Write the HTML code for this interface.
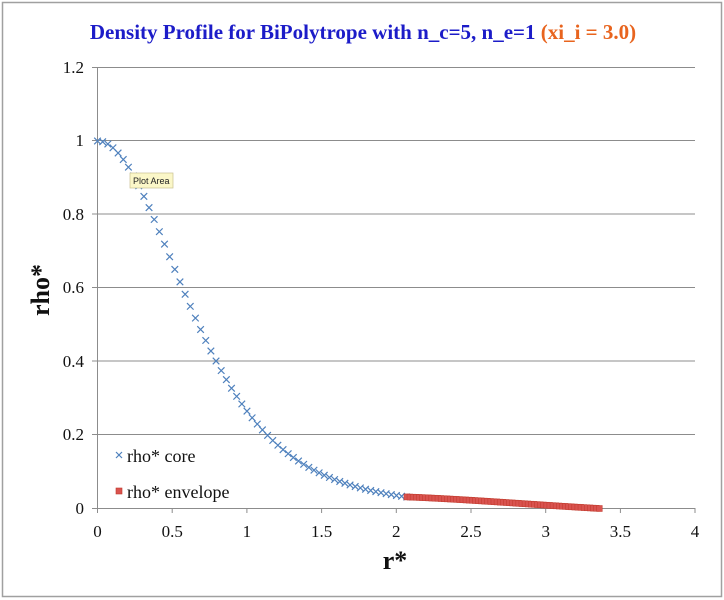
<!DOCTYPE html>
<html><head><meta charset="utf-8"><style>
html,body{margin:0;padding:0;background:#fff;}
svg{display:block;}
text{font-family:"Liberation Serif",serif;}
</style></head><body>
<svg id="s" width="724" height="600" xmlns="http://www.w3.org/2000/svg">
<rect x="2.5" y="2.5" width="719" height="594" fill="#fff" stroke="#a0a0a0" stroke-width="1.5"/>
<text x="363" y="39" text-anchor="middle" font-size="21" font-weight="bold" fill="#1c1cc8">Density Profile for BiPolytrope with n_c=5, n_e=1 <tspan fill="#e8641e">(xi_i = 3.0)</tspan></text>
<g stroke="#8c8c8c" stroke-width="1">
<line x1="97.5" y1="67.5" x2="695" y2="67.5"/>
<line x1="97.5" y1="140.5" x2="695" y2="140.5"/>
<line x1="97.5" y1="214" x2="695" y2="214"/>
<line x1="97.5" y1="287.5" x2="695" y2="287.5"/>
<line x1="97.5" y1="361" x2="695" y2="361"/>
<line x1="97.5" y1="434.5" x2="695" y2="434.5"/>
<line x1="97.5" y1="508.5" x2="695" y2="508.5"/>
<line x1="97.5" y1="67" x2="97.5" y2="509"/>
<line x1="92" y1="67.5" x2="97.5" y2="67.5"/><line x1="92" y1="140.5" x2="97.5" y2="140.5"/><line x1="92" y1="214" x2="97.5" y2="214"/><line x1="92" y1="287.5" x2="97.5" y2="287.5"/><line x1="92" y1="361" x2="97.5" y2="361"/><line x1="92" y1="434.5" x2="97.5" y2="434.5"/><line x1="92" y1="508.5" x2="97.5" y2="508.5"/>
<line x1="97.5" y1="508" x2="97.5" y2="513"/><line x1="172.2" y1="508" x2="172.2" y2="513"/><line x1="246.9" y1="508" x2="246.9" y2="513"/><line x1="321.6" y1="508" x2="321.6" y2="513"/><line x1="396.3" y1="508" x2="396.3" y2="513"/><line x1="471" y1="508" x2="471" y2="513"/><line x1="545.7" y1="508" x2="545.7" y2="513"/><line x1="620.4" y1="508" x2="620.4" y2="513"/><line x1="695" y1="508" x2="695" y2="513"/>
</g>
<g font-size="17" fill="#111" text-anchor="end">
<text x="84" y="73">1.2</text><text x="84" y="146">1</text><text x="84" y="220">0.8</text><text x="84" y="293">0.6</text><text x="84" y="367">0.4</text><text x="84" y="440">0.2</text><text x="84" y="514">0</text>
</g>
<g font-size="17" fill="#111" text-anchor="middle">
<text x="97.5" y="537">0</text><text x="172.2" y="537">0.5</text><text x="246.9" y="537">1</text><text x="321.6" y="537">1.5</text><text x="396.3" y="537">2</text><text x="471" y="537">2.5</text><text x="545.7" y="537">3</text><text x="620.4" y="537">3.5</text><text x="695" y="537">4</text>
</g>
<text x="395" y="569" text-anchor="middle" font-size="26" font-weight="bold" fill="#111">r*</text>
<text transform="translate(49,290) rotate(-90)" text-anchor="middle" font-size="26" font-weight="bold" fill="#111">rho*</text>
<g id="pts"></g>
<rect x="130" y="173" width="43" height="15" fill="#fbf7c8" stroke="#c8c090" stroke-width="0.7"/>
<text x="133" y="184" font-size="9" fill="#222" style="font-family:'Liberation Sans',sans-serif">Plot Area</text>
<g stroke="#4f81bd" stroke-width="1.2"><line x1="116" y1="452" x2="122" y2="458"/><line x1="116" y1="458" x2="122" y2="452"/></g>
<text x="127" y="462" font-size="18" fill="#111">rho* core</text>
<rect x="116" y="488" width="6" height="6" fill="#d9534f" stroke="#c0392b" stroke-width="0.6"/>
<text x="127" y="498" font-size="18" fill="#111">rho* envelope</text>
</svg>
<script>
var g=document.getElementById('pts'),h='';
function X(r){return 97.5+r*149.4;}function Y(v){return 508.5-v*367.5;}
var s=2.07/3;
for(var i=0;i<=60;i++){var xi=i*0.05,r=xi*s,v=Math.pow(1+xi*xi/3,-2.5),x=X(r),y=Y(v);
h+='<path d="M'+(x-3.3)+' '+(y-3.3)+'L'+(x+3.3)+' '+(y+3.3)+'M'+(x-3.3)+' '+(y+3.3)+'L'+(x+3.3)+' '+(y-3.3)+'" stroke="#4f81bd" stroke-width="1.2" fill="none"/>';}
var r0=2.07,R=3.36,k=1.2;
for(var i=0;i<=62;i++){var r=r0+(R-r0)*i/62;var v=0.0315*(r0/r)*Math.sin(k*(R-r))/Math.sin(k*(R-r0));
h+='<rect x="'+(X(r)-2.8)+'" y="'+(Y(v)-3)+'" width="5.6" height="6" fill="#d9534f" stroke="#c0392b" stroke-width="0.5"/>';}
g.innerHTML=h;
</script>
</body></html>
